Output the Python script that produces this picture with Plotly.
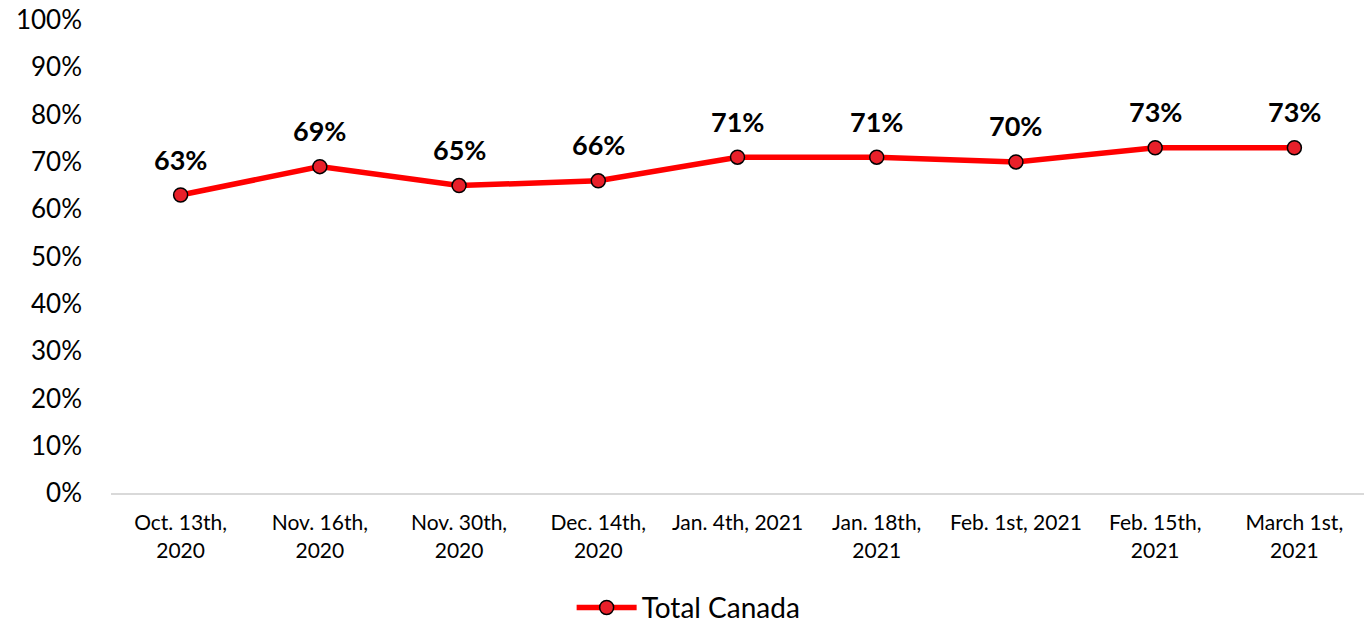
import plotly.graph_objects as go

# Survey waves and share of respondents (Total Canada)
waves = [
    "Oct. 13th,<br>2020",
    "Nov. 16th,<br>2020",
    "Nov. 30th,<br>2020",
    "Dec. 14th,<br>2020",
    "Jan. 4th, 2021<br> ",
    "Jan. 18th,<br>2021",
    "Feb. 1st, 2021<br> ",
    "Feb. 15th,<br>2021",
    "March 1st,<br>2021",
]
total_canada = [63, 69, 65, 66, 71, 71, 70, 73, 73]
y_ticks = list(range(0, 101, 10))
y_tick_labels = [f"{v}%" for v in y_ticks]

FONT = "Lato, 'Open Sans', sans-serif"

fig = go.Figure()
fig.add_trace(go.Scatter(
    x=waves,
    y=total_canada,
    mode="lines+markers",
    name="Total Canada",
    line=dict(color="#FF0000", width=5.5),
    marker=dict(size=14, color="#E8202A", line=dict(color="#000000", width=1.5)),
    cliponaxis=False,
))

# Bold value labels above each point
for w, v in zip(waves, total_canada):
    fig.add_annotation(
        x=w, y=v, text=f"<b>{v}%</b>", showarrow=False,
        yshift=36, font=dict(family=FONT, size=27, color="#000000"),
    )

fig.update_layout(
    width=1364,
    height=624,
    margin=dict(l=111, r=0, t=20, b=131, autoexpand=False),
    paper_bgcolor="white",
    plot_bgcolor="white",
    font=dict(family=FONT, color="#000000"),
    showlegend=True,
    legend=dict(
        orientation="h",
        x=0.461, xanchor="center", xref="paper",
        y=0.026, yanchor="middle", yref="container",
        font=dict(family=FONT, size=28, color="#000000"),
        itemwidth=60,
    ),
    xaxis=dict(
        type="category",
        automargin=False,
        showgrid=False,
        showline=True,
        linecolor="#D9D9D9",
        linewidth=2,
        ticks="",
        ticklabelstandoff=10,
        tickfont=dict(family=FONT, size=21, color="#000000"),
        range=[-0.5, len(waves) - 0.5],
    ),
    yaxis=dict(
        range=[0, 100],
        automargin=False,
        tickvals=y_ticks,
        ticktext=y_tick_labels,
        showgrid=False,
        zeroline=False,
        showline=False,
        ticks="",
        ticklabelstandoff=28,
        tickfont=dict(family=FONT, size=26, color="#000000"),
    ),
)

fig.write_html("out.html")
